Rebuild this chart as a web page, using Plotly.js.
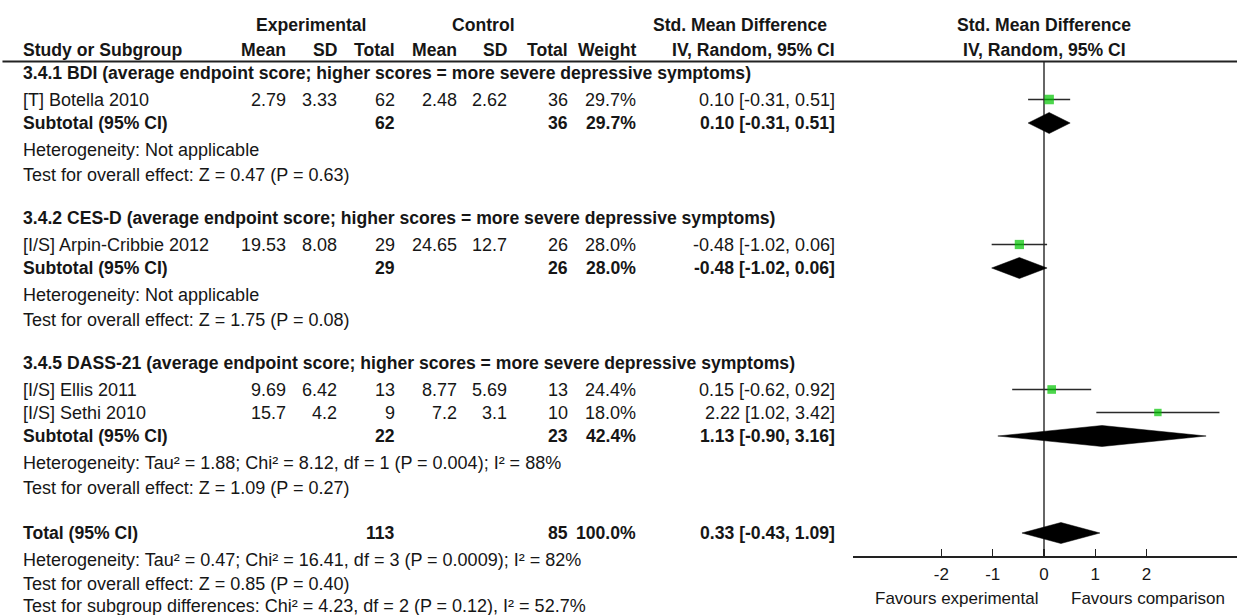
<!DOCTYPE html>
<html><head><meta charset="utf-8">
<script src="https://cdn.plot.ly/plotly-3.0.1.min.js"></script>
<style>html,body{margin:0;padding:0;background:#fff;overflow:hidden}#chart{width:1237px;height:615px}</style>
</head><body><div id="chart"></div>
<script>
// ---------------- DATA ----------------
const groupTitles = [
  "3.4.1 BDI (average endpoint score; higher scores = more severe depressive symptoms)",
  "3.4.2 CES-D (average endpoint score; higher scores = more severe depressive symptoms)",
  "3.4.5 DASS-21 (average endpoint score; higher scores = more severe depressive symptoms)"
];
const studyNames = ["[T] Botella 2010", "[I/S] Arpin-Cribbie 2012", "[I/S] Ellis 2011", "[I/S] Sethi 2010"];
const studyGroup = [0, 1, 2, 2];
const expMean = [2.79, 19.53, 9.69, 15.7];
const expSD   = [3.33, 8.08, 6.42, 4.2];
const expN    = [62, 29, 13, 9];
const ctlMean = [2.48, 24.65, 8.77, 7.2];
const ctlSD   = [2.62, 12.7, 5.69, 3.1];
const ctlN    = [36, 26, 13, 10];
const studyWeight = [29.7, 28.0, 24.4, 18.0];
const studySMD = [0.10, -0.48, 0.15, 2.22];
const studyLo  = [-0.31, -1.02, -0.62, 1.02];
const studyHi  = [0.51, 0.06, 0.92, 3.42];

const subExpN = [62, 29, 22];
const subCtlN = [36, 26, 23];
const subWeight = [29.7, 28.0, 42.4];
const subSMD = [0.10, -0.48, 1.13];
const subLo  = [-0.31, -1.02, -0.90];
const subHi  = [0.51, 0.06, 3.16];
const subHet = [
  "Heterogeneity: Not applicable",
  "Heterogeneity: Not applicable",
  "Heterogeneity: Tau² = 1.88; Chi² = 8.12, df = 1 (P = 0.004); I² = 88%"
];
const subTest = [
  "Test for overall effect: Z = 0.47 (P = 0.63)",
  "Test for overall effect: Z = 1.75 (P = 0.08)",
  "Test for overall effect: Z = 1.09 (P = 0.27)"
];
const totalExpN = 113, totalCtlN = 85, totalWeight = 100.0;
const totalSMD = 0.33, totalLo = -0.43, totalHi = 1.09;
const totalHet = "Heterogeneity: Tau² = 0.47; Chi² = 16.41, df = 3 (P = 0.0009); I² = 82%";
const totalTest = "Test for overall effect: Z = 0.85 (P = 0.40)";
const subgroupTest = "Test for subgroup differences: Chi² = 4.23, df = 2 (P = 0.12), I² = 52.7%";
const tickVals = [-2, -1, 0, 1, 2];
const tickLabels = ["-2", "-1", "0", "1", "2"];
const favoursLeft = "Favours experimental", favoursRight = "Favours comparison";

// ---------------- LAYOUT ----------------
const W = 1237, H = 615;
const FONT = "Liberation Sans, Arial, sans-serif";
const TXT = "#161616";
const REG = 18, BOLD = 17.6;
const col = {study: 22, expMean: 287, expSD: 338, expN: 396, ctlMean: 458, ctlSD: 508, ctlN: 569, weight: 637, ci: 836};
const zeroPx = 1044, pxPerUnit = 51.3, axisLeftPx = 853, axisYpx = 556, headerLineY = 61.5;

const fmtCI = (e, l, h) => e.toFixed(2) + " [" + l.toFixed(2) + ", " + h.toFixed(2) + "]";
const pct = w => w.toFixed(1) + "%";

const annotations = [];
function ann(text, xpx, ypx, anchor, bold, size, color) {
  annotations.push({
    text: bold ? "<b>" + text + "</b>" : text,
    xref: "paper", yref: "y", x: xpx / W, y: ypx,
    xanchor: anchor, yanchor: "middle", showarrow: false, borderpad: 0,
    font: {family: FONT, size: size || (bold ? BOLD : REG), color: color || TXT}
  });
}

// header
ann("Experimental", 311, 25, "center", true);
ann("Control", 483, 25, "center", true);
ann("Std. Mean Difference", 740, 25, "center", true);
ann("Std. Mean Difference", zeroPx, 25, "center", true);
ann("Study or Subgroup", col.study, 50, "left", true);
ann("Mean", col.expMean, 50, "right", true);
ann("SD", col.expSD, 50, "right", true);
ann("Total", col.expN, 50, "right", true);
ann("Mean", col.ctlMean, 50, "right", true);
ann("SD", col.ctlSD, 50, "right", true);
ann("Total", col.ctlN, 50, "right", true);
ann("Weight", col.weight, 50, "right", true);
ann("IV, Random, 95% CI", col.ci, 50, "right", true);
ann("IV, Random, 95% CI", zeroPx, 50, "center", true);

// rows
const studyY = [], subY = [];
let y = 73;
groupTitles.forEach((g, gi) => {
  if (gi > 0) y += 43.5;
  ann(g, col.study, y, "left", true);
  let k = 0;
  studyNames.forEach((s, si) => {
    if (studyGroup[si] !== gi) return;
    y += (k === 0 ? 26.5 : 23); k++;
    studyY[si] = y;
    ann(s, col.study, y, "left", false);
    ann(String(expMean[si]), col.expMean, y, "right", false);
    ann(String(expSD[si]), col.expSD, y, "right", false);
    ann(String(expN[si]), col.expN, y, "right", false);
    ann(String(ctlMean[si]), col.ctlMean, y, "right", false);
    ann(String(ctlSD[si]), col.ctlSD, y, "right", false);
    ann(String(ctlN[si]), col.ctlN, y, "right", false);
    ann(pct(studyWeight[si]), col.weight, y, "right", false);
    ann(fmtCI(studySMD[si], studyLo[si], studyHi[si]), col.ci, y, "right", false);
  });
  y += 23.5; subY[gi] = y;
  ann("Subtotal (95% CI)", col.study, y, "left", true);
  ann(String(subExpN[gi]), col.expN, y, "right", true);
  ann(String(subCtlN[gi]), col.ctlN, y, "right", true);
  ann(pct(subWeight[gi]), col.weight, y, "right", true);
  ann(fmtCI(subSMD[gi], subLo[gi], subHi[gi]), col.ci, y, "right", true);
  y += 27; ann(subHet[gi], col.study, y, "left", false);
  y += 24.5; ann(subTest[gi], col.study, y, "left", false);
});
y += 45.5; const totalY = y;
ann("Total (95% CI)", col.study, y, "left", true);
ann(String(totalExpN), col.expN, y, "right", true);
ann(String(totalCtlN), col.ctlN, y, "right", true);
ann(pct(totalWeight), col.weight, y, "right", true);
ann(fmtCI(totalSMD, totalLo, totalHi), col.ci, y, "right", true);
y += 27; ann(totalHet, col.study, y, "left", false);
y += 24; ann(totalTest, col.study, y, "left", false);
y += 22; ann(subgroupTest, col.study, y, "left", false);

// favours labels
ann(favoursLeft, 956, 598, "center", false, 17);
ann(favoursRight, 1148, 598, "center", false, 17);

// ---------------- TRACES ----------------
const traces = [];
// CI whiskers
const ciX = [], ciY = [];
studyNames.forEach((s, i) => { ciX.push(studyLo[i], studyHi[i], null); ciY.push(studyY[i], studyY[i], null); });
traces.push({type: "scatter", mode: "lines", x: ciX, y: ciY, line: {color: "#2a2a2a", width: 1.6}, hoverinfo: "skip", cliponaxis: false});
// squares
traces.push({type: "scatter", mode: "markers", x: studySMD, y: studyY,
  marker: {symbol: "square", color: "#00c400", size: studyWeight.map(w => 1.75 * Math.sqrt(w)), line: {width: 0}},
  hoverinfo: "skip", cliponaxis: false});
// diamonds
const HALF = 10.5;
function diamond(e, l, h, yy) {
  traces.push({type: "scatter", mode: "lines", fill: "toself", fillcolor: "#000",
    x: [l, e, h, e, l], y: [yy, yy - HALF, yy, yy + HALF, yy],
    line: {color: "#000", width: 0.5}, hoverinfo: "skip", cliponaxis: false});
}
subSMD.forEach((e, gi) => diamond(e, subLo[gi], subHi[gi], subY[gi]));
diamond(totalSMD, totalLo, totalHi, totalY);

// ---------------- LAYOUT ----------------
const xRange = [(axisLeftPx - zeroPx) / pxPerUnit, (W - zeroPx) / pxPerUnit];
const layout = {
  width: W, height: H,
  margin: {l: 0, r: 0, t: 0, b: 0, pad: 0},
  paper_bgcolor: "#fff", plot_bgcolor: "rgba(0,0,0,0)",
  showlegend: false,
  font: {family: FONT, color: TXT},
  xaxis: {
    domain: [axisLeftPx / W, 1], range: xRange, anchor: "free", position: (H - axisYpx) / H,
    showline: true, linecolor: "#222", linewidth: 1.5,
    ticks: "inside", ticklen: 7, tickwidth: 1.5, tickcolor: "#222",
    tickvals: tickVals, ticktext: tickLabels, ticklabelstandoff: 2,
    tickfont: {family: FONT, size: 17, color: TXT},
    showgrid: false, zeroline: false, fixedrange: true
  },
  yaxis: {domain: [0, 1], range: [H, 0], visible: false, fixedrange: true},
  shapes: [
    {type: "line", xref: "paper", yref: "y", x0: 0.002, x1: 1, y0: headerLineY, y1: headerLineY, line: {color: "#222", width: 2}},
    {type: "line", xref: "x", yref: "y", x0: 0, x1: 0, y0: headerLineY, y1: axisYpx, line: {color: "#333", width: 1.5}, layer: "below"}
  ],
  annotations: annotations
};
Plotly.newPlot("chart", traces, layout, {staticPlot: true, displayModeBar: false});
</script>
</body></html>
